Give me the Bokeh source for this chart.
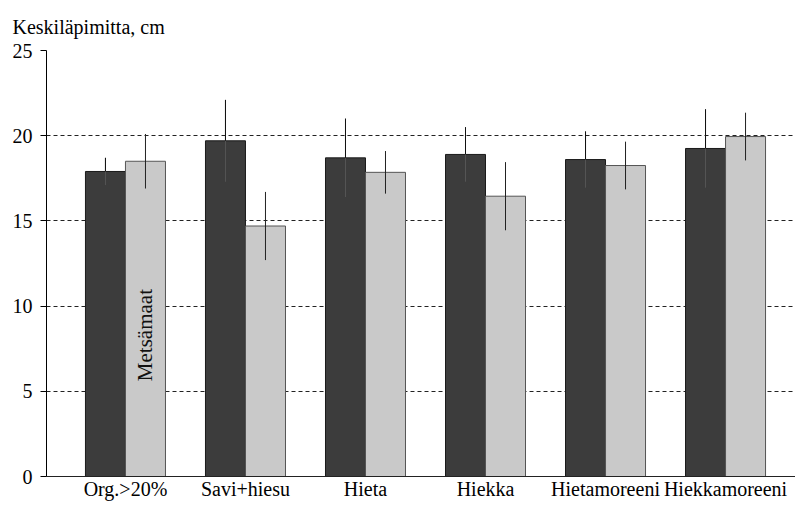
import math
from bokeh.plotting import figure
from bokeh.models import ColumnDataSource, Range1d, FixedTicker, Title
from bokeh.core.properties import value
from bokeh.embed import file_html
from bokeh.resources import INLINE

categories = ["Org.>20%", "Savi+hiesu", "Hieta", "Hiekka", "Hietamoreeni", "Hiekkamoreeni"]
dark_values = [17.9, 19.7, 18.7, 18.9, 18.6, 19.25]
dark_errors = [0.8, 2.4, 2.3, 1.6, 1.65, 2.3]
light_values = [18.5, 14.7, 17.85, 16.45, 18.25, 19.95]
light_errors = [1.6, 2.0, 1.25, 2.0, 1.4, 1.4]
y_ticks = [0, 5, 10, 15, 20, 25]
title_text = "Keskiläpimitta, cm"
note_text = "Metsämaat"
note_y = 8.3

FONT = "Liberation Serif"
BW = 1 / 3.0
idx = list(range(len(categories)))

dark_src = ColumnDataSource(dict(
    x=[i - BW / 2 for i in idx], top=dark_values,
    lo=[v - e for v, e in zip(dark_values, dark_errors)],
    hi=[v + e for v, e in zip(dark_values, dark_errors)]))
light_src = ColumnDataSource(dict(
    x=[i + BW / 2 for i in idx], top=light_values,
    lo=[v - e for v, e in zip(light_values, light_errors)],
    hi=[v + e for v, e in zip(light_values, light_errors)]))

p = figure(width=795, height=502, output_backend="svg", toolbar_location=None,
           x_range=Range1d(-0.658, 5.583), y_range=Range1d(0, 25),
           min_border_left=46, min_border_right=0, min_border_bottom=24, min_border_top=50)
p.title = Title(text=title_text, align="left", offset=-34, text_font=FONT,
                text_font_size="20px", text_font_style="normal", text_color="black",
                standoff=25)
p.outline_line_color = None
p.background_fill_color = "white"
p.border_fill_color = "white"

p.vbar(x="x", top="top", bottom=0, width=BW, source=dark_src,
       fill_color="#3c3c3c", line_color="#1a1a1a", line_width=1)
p.vbar(x="x", top="top", bottom=0, width=BW, source=light_src,
       fill_color="#c9c9c9", line_color="#555555", line_width=1)
p.segment(x0="x", y0="lo", x1="x", y1="hi", source=dark_src, line_color="#555555", line_width=1)
p.segment(x0="x", y0="top", x1="x", y1="hi", source=dark_src, line_color="#111111", line_width=1)
p.segment(x0="x", y0="lo", x1="x", y1="hi", source=light_src, line_color="#222222", line_width=1)

p.text(x=[light_src.data["x"][0]], y=[note_y], text=[note_text], angle=math.pi / 2,
       text_align="center", text_baseline="middle", text_font=value(FONT),
       text_font_size="21px", text_color="#111111")

p.xgrid.visible = False
p.ygrid.ticker = FixedTicker(ticks=y_ticks)
p.ygrid.grid_line_color = "#222222"
p.ygrid.grid_line_dash = "4 3"
p.ygrid.grid_line_width = 1

p.yaxis.ticker = FixedTicker(ticks=y_ticks)
p.yaxis.minor_tick_line_color = None
p.yaxis.major_tick_out = 6
p.yaxis.major_tick_in = 0
p.yaxis.major_label_standoff = 8
p.yaxis.major_label_text_font = FONT
p.yaxis.major_label_text_font_size = "20px"
p.yaxis.major_label_text_color = "black"
p.yaxis.axis_line_color = "black"
p.yaxis.major_tick_line_color = "black"

p.xaxis.ticker = FixedTicker(ticks=idx)
p.xaxis.major_label_overrides = {i: c for i, c in zip(idx, categories)}
p.xaxis.major_tick_line_color = None
p.xaxis.major_tick_out = 0
p.xaxis.major_tick_in = 0
p.xaxis.minor_tick_line_color = None
p.xaxis.minor_tick_out = 0
p.xaxis.major_label_standoff = 1
p.xaxis.major_label_text_font = FONT
p.xaxis.major_label_text_font_size = "20px"
p.xaxis.major_label_text_color = "black"
p.xaxis.axis_line_color = "#222222"

open("out.html", "w").write(file_html(p, INLINE))
